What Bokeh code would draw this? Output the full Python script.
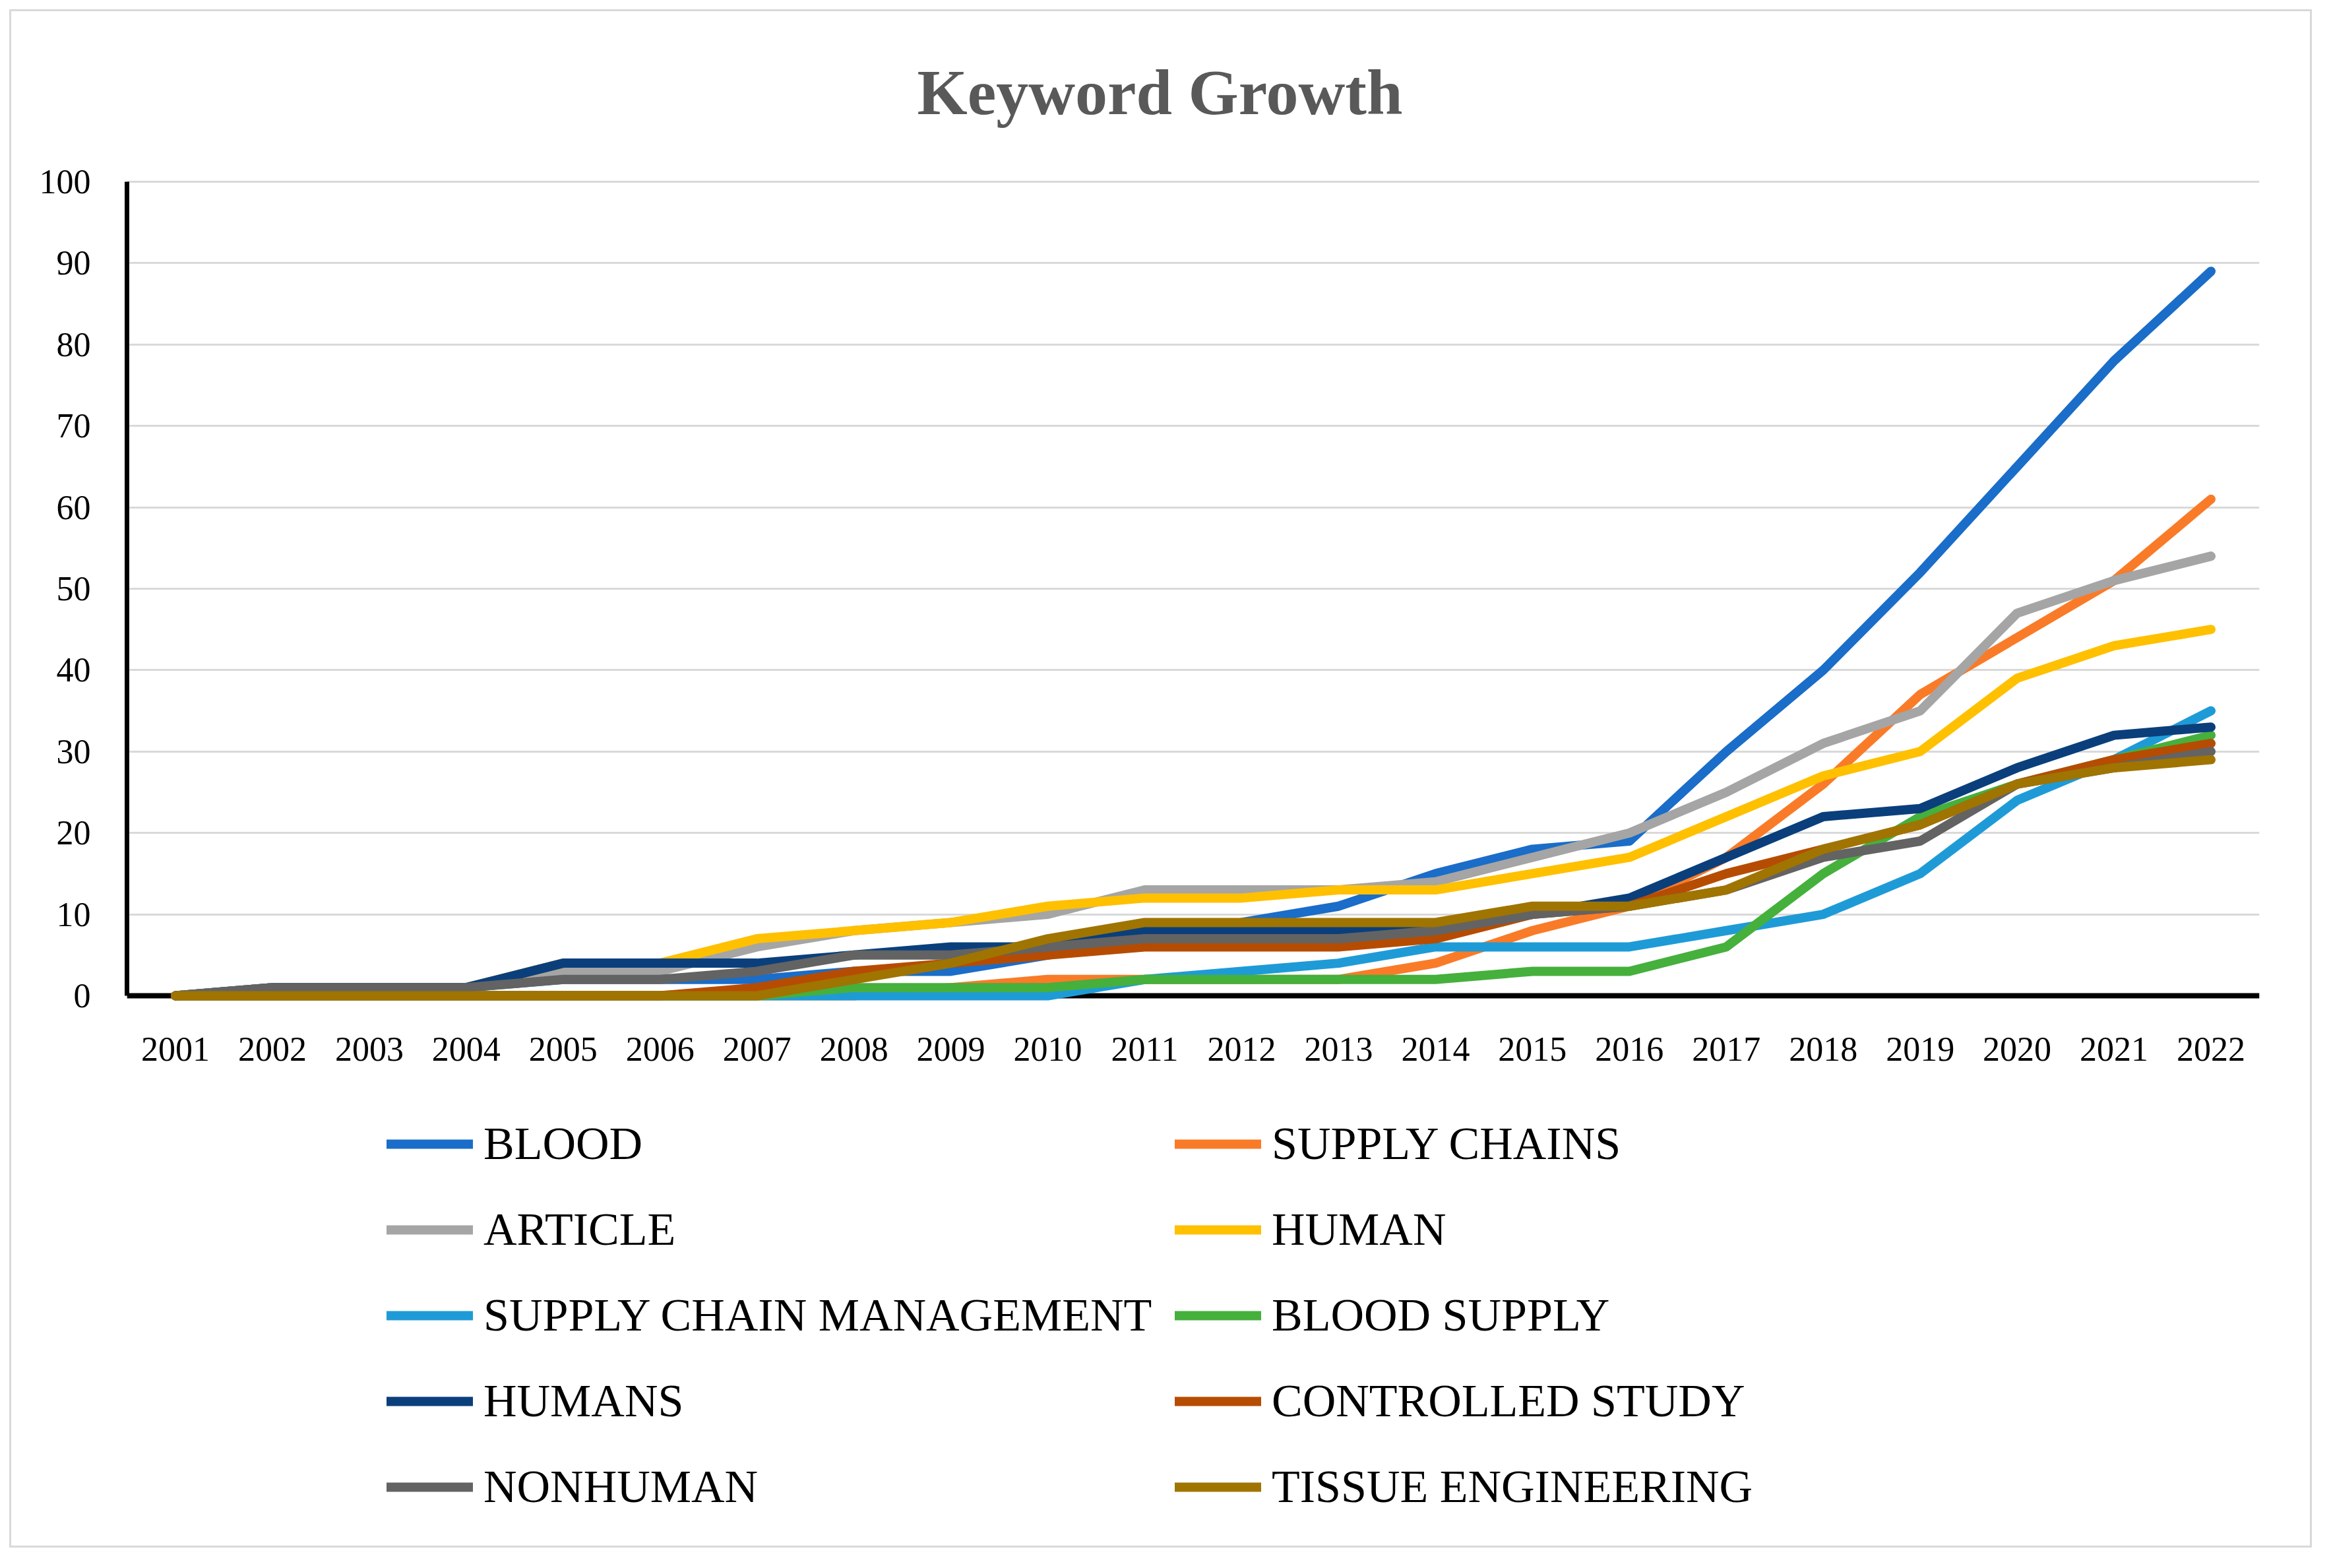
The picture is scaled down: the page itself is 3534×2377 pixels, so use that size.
from bokeh.plotting import figure
from bokeh.models import Legend, LegendItem, FixedTicker, Range1d, Span, Label
from bokeh.layouts import column
from bokeh.embed import file_html
from bokeh.resources import INLINE

# ---------------- data ----------------
years = list(range(2001, 2023))
y_ticks = list(range(0, 101, 10))

blood = [0, 1, 1, 1, 2, 2, 2, 3, 3, 5, 7, 9, 11, 15, 18, 19, 30, 40, 52, 65, 78, 89]
supply_chains = [0, 0, 0, 0, 0, 0, 0, 0, 1, 2, 2, 2, 2, 4, 8, 11, 17, 26, 37, 44, 51, 61]
article = [0, 1, 1, 1, 3, 3, 6, 8, 9, 10, 13, 13, 13, 14, 17, 20, 25, 31, 35, 47, 51, 54]
human = [0, 1, 1, 1, 4, 4, 7, 8, 9, 11, 12, 12, 13, 13, 15, 17, 22, 27, 30, 39, 43, 45]
supply_chain_mgmt = [0, 0, 0, 0, 0, 0, 0, 0, 0, 0, 2, 3, 4, 6, 6, 6, 8, 10, 15, 24, 29, 35]
blood_supply = [0, 0, 0, 0, 0, 0, 0, 1, 1, 1, 2, 2, 2, 2, 3, 3, 6, 15, 22, 26, 29, 32]
humans = [0, 1, 1, 1, 4, 4, 4, 5, 6, 6, 8, 8, 8, 8, 10, 12, 17, 22, 23, 28, 32, 33]
controlled_study = [0, 0, 0, 0, 0, 0, 1, 3, 4, 5, 6, 6, 6, 7, 10, 11, 15, 18, 21, 26, 29, 31]
nonhuman = [0, 1, 1, 1, 2, 2, 3, 5, 5, 6, 7, 7, 7, 8, 10, 11, 13, 17, 19, 26, 28, 30]
tissue_engineering = [0, 0, 0, 0, 0, 0, 0, 2, 4, 7, 9, 9, 9, 9, 11, 11, 13, 18, 21, 26, 28, 29]

series_names = ["BLOOD", "SUPPLY CHAINS", "ARTICLE", "HUMAN", "SUPPLY CHAIN MANAGEMENT",
                "BLOOD SUPPLY", "HUMANS", "CONTROLLED STUDY", "NONHUMAN", "TISSUE ENGINEERING"]
series_values = [blood, supply_chains, article, human, supply_chain_mgmt,
                 blood_supply, humans, controlled_study, nonhuman, tissue_engineering]
series_colors = ["#1A6DC8", "#F97B28", "#A5A5A5", "#FFC000", "#1E9BD7",
                 "#45B03C", "#0A3F7C", "#B64C02", "#636363", "#A07400"]

SERIF = "Liberation Serif"

# ---------------- figure ----------------
# the frame spans the whole height of the canvas so that the title (above)
# and the legend (below the x axis) are drawn inside it and not clipped
p = figure(frame_width=3233, frame_height=2326,
           min_border_left=175, min_border_right=77,
           min_border_top=0, min_border_bottom=0,
           x_range=Range1d(2000.5, 2022.5), y_range=Range1d(-67.59, 120.91),
           output_backend="svg", toolbar_location=None)
p.outline_line_color = None
p.background_fill_color = "white"
p.border_fill_color = "white"

# grid
p.xgrid.visible = False
p.ygrid.ticker = FixedTicker(ticks=y_ticks)
p.ygrid.grid_line_color = "#D9D9D9"
p.ygrid.grid_line_width = 3

# x axis sits at value 0
p.xaxis.fixed_location = 0
p.xaxis.ticker = FixedTicker(ticks=years)
p.xaxis.axis_line_color = None
p.xaxis.major_tick_line_color = None
p.xaxis.minor_tick_line_color = None
p.xaxis.major_tick_out = 0
p.xaxis.major_tick_in = 0
p.xaxis.major_label_standoff = 64
p.xaxis.major_label_text_font = SERIF
p.xaxis.major_label_text_font_size = "52px"
p.xaxis.major_label_text_color = "black"

p.yaxis.ticker = FixedTicker(ticks=y_ticks)
p.yaxis.bounds = (0, 100)
p.yaxis.axis_line_color = "black"
p.yaxis.axis_line_width = 7
p.yaxis.major_tick_line_color = None
p.yaxis.minor_tick_line_color = None
p.yaxis.major_tick_out = 0
p.yaxis.major_tick_in = 0
p.yaxis.major_label_standoff = 55
p.yaxis.major_label_text_font = SERIF
p.yaxis.major_label_text_font_size = "52px"
p.yaxis.major_label_text_color = "black"

# category axis line at zero, beneath the series
p.add_layout(Span(location=0, dimension="width", line_color="black",
                  line_width=8, level="underlay"))

# series
items = []
for name, vals, col in zip(series_names, series_values, series_colors):
    r = p.line(years, vals, line_color=col, line_width=14,
               line_join="round", line_cap="round")
    items.append(LegendItem(label=name, renderers=[r]))

legend = Legend(items=items, location=(394, 29), orientation="horizontal", ncols=2,
                glyph_width=131, glyph_height=120, label_height=120,
                label_width=1038, label_standoff=16, spacing=10,
                padding=0, margin=0,
                label_text_font="'Liberation Serif', serif", label_text_font_size="70px",
                label_text_font_style="normal",
                label_text_color="black", label_text_baseline="middle",
                border_line_color=None, background_fill_alpha=0)
p.add_layout(legend)

# chart title (screen units, relative to the frame's lower-left corner)
p.add_layout(Label(x=1566, y=2204, x_units="screen", y_units="screen",
                   text="Keyword Growth", text_font=SERIF, text_font_style="bold",
                   text_font_size="98px", text_color="#595959",
                   text_align="center", text_baseline="alphabetic"))

page = column(p, styles={"margin": "14px", "border": "3px solid #D9D9D9"})

open("out.html", "w").write(file_html(page, INLINE))
